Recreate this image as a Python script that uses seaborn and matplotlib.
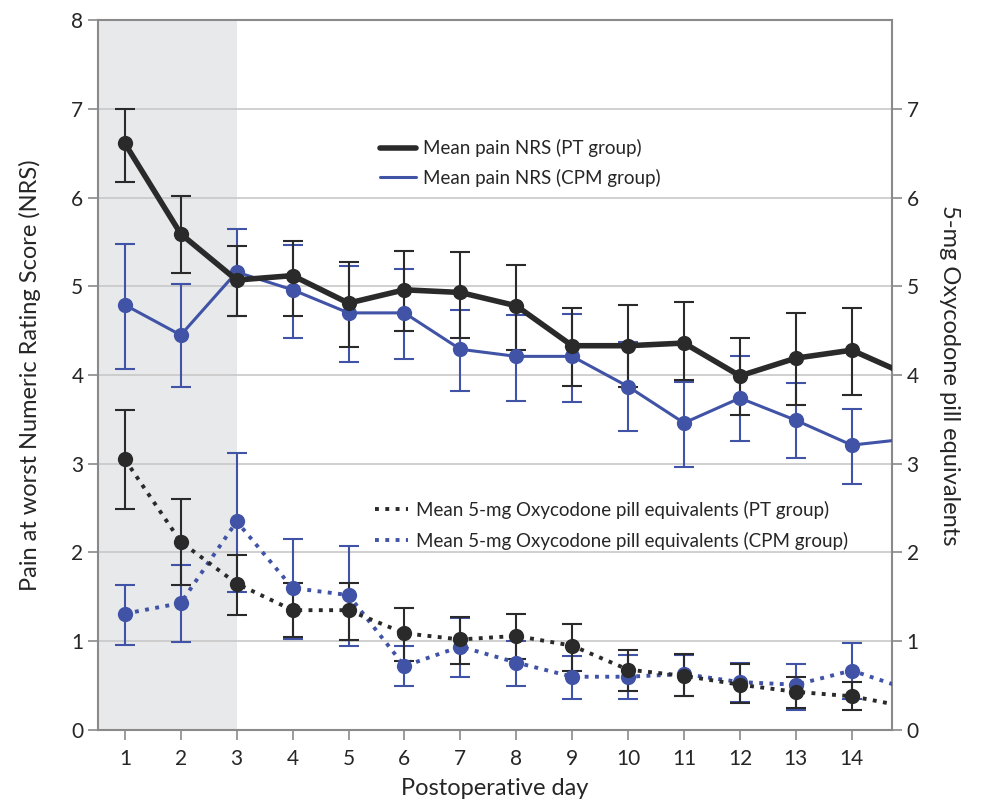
import numpy as np
import pandas as pd
import seaborn as sns
import matplotlib.pyplot as plt

# datos (dia 15 solo para que la linea llegue al borde)
days = list(range(1, 16))

pain_pt = [6.61, 5.59, 5.07, 5.12, 4.81, 4.96, 4.93, 4.78, 4.33, 4.33, 4.36, 3.99, 4.19, 4.28, 4.0]
pain_pt_hi = [7.0, 6.02, 5.45, 5.51, 5.27, 5.40, 5.39, 5.24, 4.76, 4.79, 4.82, 4.42, 4.70, 4.75, np.nan]
pain_pt_lo = [6.18, 5.15, 4.66, 4.67, 4.32, 4.50, 4.42, 4.28, 3.88, 3.86, 3.94, 3.55, 3.66, 3.78, np.nan]

pain_cpm = [4.79, 4.45, 5.16, 4.96, 4.70, 4.70, 4.29, 4.21, 4.21, 3.87, 3.46, 3.74, 3.49, 3.21, 3.28]
pain_cpm_hi = [5.48, 5.03, 5.65, 5.46, 5.23, 5.20, 4.73, 4.68, 4.69, 4.37, 3.92, 4.21, 3.91, 3.62, np.nan]
pain_cpm_lo = [4.07, 3.87, 4.66, 4.42, 4.15, 4.18, 3.82, 3.71, 3.70, 3.37, 2.96, 3.26, 3.06, 2.77, np.nan]

oxy_pt = [3.05, 2.12, 1.65, 1.35, 1.35, 1.09, 1.02, 1.06, 0.95, 0.68, 0.61, 0.51, 0.43, 0.38, 0.26]
oxy_pt_hi = [3.61, 2.60, 1.97, 1.66, 1.66, 1.38, 1.27, 1.31, 1.19, 0.90, 0.86, 0.74, 0.60, 0.54, np.nan]
oxy_pt_lo = [2.49, 1.63, 1.30, 1.05, 1.01, 0.78, 0.74, 0.80, 0.66, 0.44, 0.38, 0.30, 0.25, 0.22, np.nan]

oxy_cpm = [1.31, 1.43, 2.35, 1.60, 1.52, 0.72, 0.94, 0.76, 0.60, 0.60, 0.63, 0.54, 0.51, 0.67, 0.46]
oxy_cpm_hi = [1.63, 1.86, 3.12, 2.15, 2.07, 0.95, 1.26, 1.00, 0.83, 0.85, 0.85, 0.75, 0.74, 0.98, np.nan]
oxy_cpm_lo = [0.96, 0.99, 1.56, 1.03, 0.95, 0.49, 0.60, 0.50, 0.35, 0.35, 0.38, 0.31, 0.23, 0.35, np.nan]

NEGRO = "#2a2a2a"
AZUL = "#4053a6"

sns.set_style("white")
plt.rcParams['font.family'] = ['Lato', 'DejaVu Sans']

fig = plt.figure(figsize=(9.81, 8.11), dpi=100)
ax = fig.add_axes([0.0999, 0.0999, 0.8094, 0.8754])

ax.axvspan(0.5, 3, color="#e8e9eb", zorder=0, lw=0)

series = [
    ("Mean pain NRS (CPM group)", pain_cpm, pain_cpm_lo, pain_cpm_hi, AZUL, "-", 2.2),
    ("Mean pain NRS (PT group)", pain_pt, pain_pt_lo, pain_pt_hi, NEGRO, "-", 4.0),
    ("Mean 5-mg Oxycodone pill equivalents (CPM group)", oxy_cpm, oxy_cpm_lo, oxy_cpm_hi, AZUL, ":", 2.8),
    ("Mean 5-mg Oxycodone pill equivalents (PT group)", oxy_pt, oxy_pt_lo, oxy_pt_hi, NEGRO, ":", 2.8),
]

handles = {}
for nombre, vals, lo, hi, col, ls, lw in series:
    df = pd.DataFrame({"day": days, "val": vals, "lo": lo, "hi": hi})
    ax.errorbar(df["day"], df["val"], yerr=[df["val"] - df["lo"], df["hi"] - df["val"]],
                fmt="none", ecolor=col, elinewidth=1.5, capsize=7, capthick=1.5, zorder=2)
    sns.lineplot(data=df, x="day", y="val", ax=ax, color=col, linestyle=ls, linewidth=lw,
                 marker="o", markersize=11, markeredgewidth=0, zorder=3)
    handles[nombre] = plt.Line2D([], [], color=col, linestyle=ls, linewidth=lw)

ax.set_xlim(0.52, 14.72)
ax.set_ylim(0, 8)
ax.set_xticks(range(1, 15))
ax.set_yticks(range(0, 9))
ax.yaxis.grid(True, color="#c8c8c8", lw=1.2)
ax.set_axisbelow(True)

for s in ax.spines.values():
    s.set_color("#8a8a8a")
    s.set_linewidth(1.5)

ax.tick_params(axis="both", which="both", direction="out", length=7, width=1.2,
               color="#8a8a8a", labelsize=15, left=True, bottom=True)
ax.tick_params(axis="x", pad=7)
ax.set_xlabel("Postoperative day", fontsize=17, labelpad=6)
ax.set_ylabel("Pain at worst Numeric Rating Score (NRS)", fontsize=17, labelpad=22)

ax2 = ax.twinx()
ax2.set_ylim(0, 8)
ax2.set_yticks(range(0, 8))
ax2.tick_params(axis="y", direction="out", length=7, width=1.2, color="#8a8a8a", labelsize=15, right=True)
for s in ax2.spines.values():
    s.set_visible(False)
ax2.set_ylabel("5-mg Oxycodone pill equivalents", fontsize=17, rotation=270, labelpad=30)

leg1 = ax.legend([handles["Mean pain NRS (PT group)"], handles["Mean pain NRS (CPM group)"]],
                 ["Mean pain NRS (PT group)", "Mean pain NRS (CPM group)"],
                 loc="upper left", bbox_to_anchor=(0.334, 0.856), frameon=False, fontsize=13.5,
                 handlelength=1.9, handletextpad=0.4, labelspacing=0.6)
ax.add_artist(leg1)
ax.legend([handles["Mean 5-mg Oxycodone pill equivalents (PT group)"],
           handles["Mean 5-mg Oxycodone pill equivalents (CPM group)"]],
          ["Mean 5-mg Oxycodone pill equivalents (PT group)",
           "Mean 5-mg Oxycodone pill equivalents (CPM group)"],
          loc="upper left", bbox_to_anchor=(0.327, 0.347), frameon=False, fontsize=13.5,
          handlelength=1.8, handletextpad=0.4, labelspacing=0.7)

fig.savefig("out.png", dpi=100)
